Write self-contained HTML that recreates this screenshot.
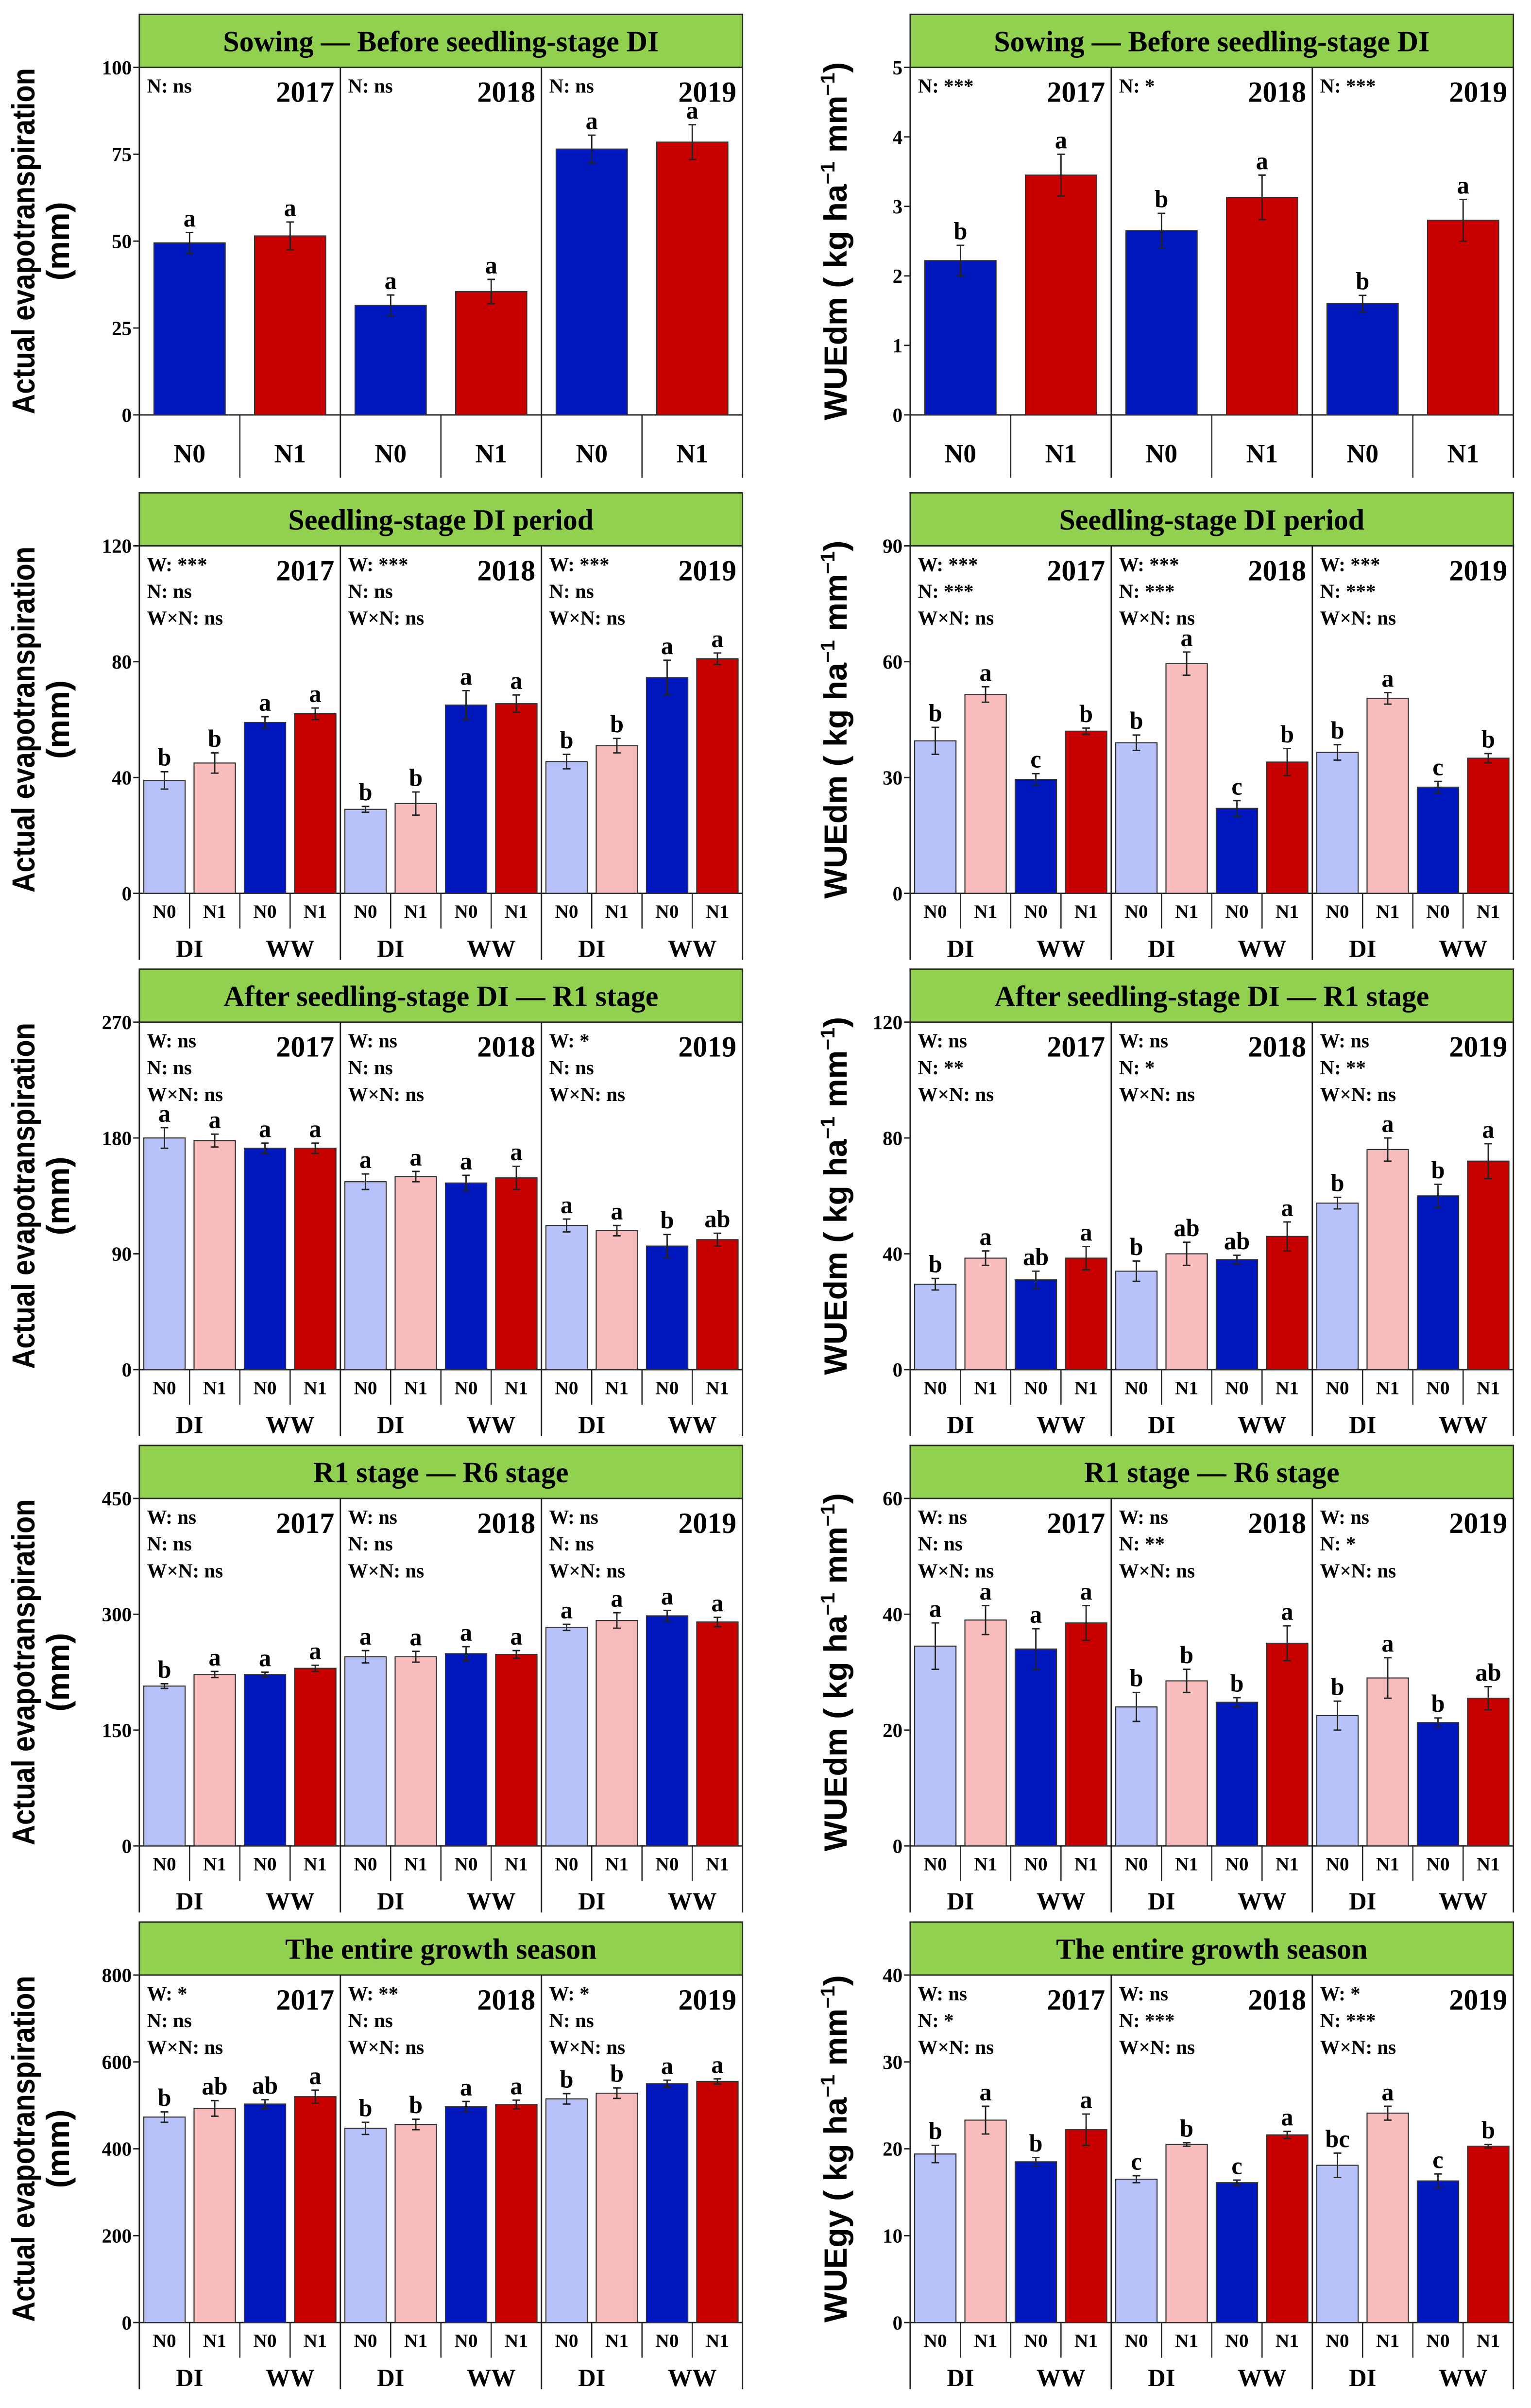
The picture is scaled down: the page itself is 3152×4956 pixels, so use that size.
<!DOCTYPE html>
<html><head><meta charset="utf-8"><style>
html,body{margin:0;padding:0;background:#fff;}
svg{display:block;}
</style></head>
<body>
<svg id="fig" xmlns="http://www.w3.org/2000/svg" width="3152" height="4956" viewBox="0 0 1000 1572.3" preserveAspectRatio="none"></svg>
<script>
// ===== DATA =====
const years = ["2017","2018","2019"];
const titles = ["Sowing \u2014 Before seedling-stage DI","Seedling-stage DI period","After seedling-stage DI \u2014 R1 stage","R1 stage \u2014 R6 stage","The entire growth season"];
// Row 1 (2 bars per year: N0, N1)
const aet1Values = [49.5,51.5, 31.5,35.5, 76.5,78.5];
const aet1Errors = [3,4, 3,3.5, 4,5];
const aet1Letters = ["a","a","a","a","a","a"];
const aet1Ticks = [0,25,50,75,100];
const aet1Stats = [["N: ns"],["N: ns"],["N: ns"]];
const wue1Values = [2.22,3.45, 2.65,3.13, 1.6,2.8];
const wue1Errors = [0.22,0.3, 0.25,0.32, 0.12,0.3];
const wue1Letters = ["b","a","b","a","b","a"];
const wue1Ticks = [0,1,2,3,4,5];
const wue1Stats = [["N: ***"],["N: *"],["N: ***"]];
// Row 2 (DI N0, DI N1, WW N0, WW N1)
const aet2Values = [39,45,59,62, 29,31,65,65.5, 45.5,51,74.5,81];
const aet2Errors = [3,3.5,2,2, 1,4,5,3, 2.5,2.5,6,2];
const aet2Letters = ["b","b","a","a","b","b","a","a","b","b","a","a"];
const aet2Ticks = [0,40,80,120];
const aet2Stats = [["W: ***","N: ns","W\u00d7N: ns"],["W: ***","N: ns","W\u00d7N: ns"],["W: ***","N: ns","W\u00d7N: ns"]];
const wue2Values = [39.5,51.5,29.5,42, 39,59.5,22,34, 36.5,50.5,27.5,35];
const wue2Errors = [3.5,2,1.5,0.8, 2,3,2,3.5, 2,1.5,1.5,1.2];
const wue2Letters = ["b","a","c","b","b","a","c","b","b","a","c","b"];
const wue2Ticks = [0,30,60,90];
const wue2Stats = [["W: ***","N: ***","W\u00d7N: ns"],["W: ***","N: ***","W\u00d7N: ns"],["W: ***","N: ***","W\u00d7N: ns"]];
// Row 3
const aet3Values = [180,178,172,172, 146,150,145,149, 112,108,96,101];
const aet3Errors = [8,5,4,4, 6,4,6,9, 5,4,9,5];
const aet3Letters = ["a","a","a","a","a","a","a","a","a","a","b","ab"];
const aet3Ticks = [0,90,180,270];
const aet3Stats = [["W: ns","N: ns","W\u00d7N: ns"],["W: ns","N: ns","W\u00d7N: ns"],["W: *","N: ns","W\u00d7N: ns"]];
const wue3Values = [29.5,38.5,31,38.5, 34,40,38,46, 57.5,76,60,72];
const wue3Errors = [2,2.5,3,4, 3.5,4,1.5,5, 2,4,4,6];
const wue3Letters = ["b","a","ab","a","b","ab","ab","a","b","a","b","a"];
const wue3Ticks = [0,40,80,120];
const wue3Stats = [["W: ns","N: **","W\u00d7N: ns"],["W: ns","N: *","W\u00d7N: ns"],["W: ns","N: **","W\u00d7N: ns"]];
// Row 4
const aet4Values = [207,222,222,230, 245,245,249,248, 283,292,298,290];
const aet4Errors = [3,4,3,4, 8,7,9,5, 4,10,7,6];
const aet4Letters = ["b","a","a","a","a","a","a","a","a","a","a","a"];
const aet4Ticks = [0,150,300,450];
const aet4Stats = [["W: ns","N: ns","W\u00d7N: ns"],["W: ns","N: ns","W\u00d7N: ns"],["W: ns","N: ns","W\u00d7N: ns"]];
const wue4Values = [34.5,39,34,38.5, 24,28.5,24.8,35, 22.5,29,21.3,25.5];
const wue4Errors = [4,2.5,3.5,3, 2.5,2,0.8,3, 2.5,3.5,0.8,2];
const wue4Letters = ["a","a","a","a","b","b","b","a","b","a","b","ab"];
const wue4Ticks = [0,20,40,60];
const wue4Stats = [["W: ns","N: ns","W\u00d7N: ns"],["W: ns","N: **","W\u00d7N: ns"],["W: ns","N: *","W\u00d7N: ns"]];
// Row 5
const aet5Values = [473,493,503,520, 447,456,497,502, 515,528,550,555];
const aet5Errors = [12,18,10,15, 14,12,12,10, 12,12,8,6];
const aet5Letters = ["b","ab","ab","a","b","b","a","a","b","b","a","a"];
const aet5Ticks = [0,200,400,600,800];
const aet5Stats = [["W: *","N: ns","W\u00d7N: ns"],["W: **","N: ns","W\u00d7N: ns"],["W: *","N: ns","W\u00d7N: ns"]];
const wue5Values = [19.4,23.3,18.5,22.2, 16.5,20.5,16.1,21.6, 18.1,24.1,16.3,20.3];
const wue5Errors = [1,1.6,0.5,1.8, 0.4,0.2,0.3,0.4, 1.4,0.8,0.8,0.2];
const wue5Letters = ["b","a","b","a","c","b","c","a","bc","a","c","b"];
const wue5Ticks = [0,10,20,30,40];
const wue5Stats = [["W: ns","N: *","W\u00d7N: ns"],["W: ns","N: ***","W\u00d7N: ns"],["W: *","N: ***","W\u00d7N: ns"]];

// ===== RENDER =====
const NS = "http://www.w3.org/2000/svg";
const svg = document.getElementById("fig");
const SERIF = "'Liberation Serif', serif";
const SANS = "'Liberation Sans', sans-serif";
function mk(tag, attrs, parent, txt) {
  const e = document.createElementNS(NS, tag);
  for (const k in attrs) e.setAttribute(k, attrs[k]);
  if (txt !== undefined) e.textContent = txt;
  (parent || svg).appendChild(e);
  return e;
}
const rowTops = [9.4, 321.8, 632.8, 943.8, 1255];
const colX = [91, 594.5];
const PW = 394;
const colors2 = ["#0018BE", "#C80000"];
const colors4 = ["#B8C2FA", "#F8BCBC", "#0018BE", "#C80000"];

function panel(col, row, values, errors, letters, ticks, stats, ytitleKind, ylabelBase) {
  const x0 = colX[col], rt = rowTops[row];
  const pTop = rt + 34.6, zero = rt + 261.5, bottom = row === 0 ? rt + 302.6 : rt + 305;
  const ymax = ticks[ticks.length - 1];
  const y = v => zero - (v / ymax) * (zero - pTop);
  const n = values.length / 3;
  const yw = PW / 3, cw = yw / n;
  const g = mk("g", {});
  
  
  const hd = mk("rect", {x: x0, y: rt, width: PW, height: 34.6, fill: "#92D050", stroke: "#2a2a2a", "stroke-width": 0.9}, g);
  
  
  const ht = mk("text", {x: x0 + PW / 2, y: rt + 24, "text-anchor": "middle", "font-family": SERIF, "font-weight": "bold", "font-size": 19}, g, titles[row]);
  
  
  const fr = mk("path", {d: `M${x0},${pTop}V${bottom}M${x0 + PW},${pTop}V${bottom}M${x0},${zero}H${x0 + PW}`, stroke: "#222", "stroke-width": 0.9, fill: "none"}, g);
  
  
  ticks.forEach(t => {
    const tk = mk("line", {x1: x0 - 4, x2: x0, y1: y(t), y2: y(t), stroke: "#222", "stroke-width": 0.9}, g);
    
    
    const tl = mk("text", {x: x0 - 5, y: y(t) + 4.5, "text-anchor": "end", "font-family": SERIF, "font-weight": "bold", "font-size": 13}, g, String(t));
    
    
  });
  for (let k = 0; k < 3; k++) {
    const yx = x0 + k * yw;
    if (k > 0) {
      const dv = mk("line", {x1: yx, x2: yx, y1: pTop, y2: bottom, stroke: "#222", "stroke-width": 0.9}, g);
      
      
    }
    const yl = mk("text", {x: yx + yw - 4, y: pTop + 22.5, "text-anchor": "end", "font-family": SERIF, "font-weight": "bold", "font-size": 19}, g, years[k]);
    
    
    stats[k].forEach((s, i) => {
      const st = mk("text", {x: yx + 5, y: pTop + 16.5 + i * 17.5, "font-family": SERIF, "font-weight": "bold", "font-size": 13}, g, s);
      
      
    });
    for (let j = 0; j < n; j++) {
      const idx = k * n + j;
      const cx = yx + cw * (j + 0.5);
      const bw = n === 2 ? 46.5 : 27;
      const v = values[idx], e = errors[idx];
      const b = mk("rect", {x: cx - bw / 2, y: y(v), width: bw, height: zero - y(v), fill: (n === 2 ? colors2 : colors4)[j], stroke: "#333", "stroke-width": 0.7}, g);
      
      
      const eb = mk("path", {d: `M${cx},${y(v + e)}V${y(v - e)}M${cx - 2.5},${y(v + e)}H${cx + 2.5}M${cx - 2.5},${y(v - e)}H${cx + 2.5}`, stroke: "#222", "stroke-width": 0.9, fill: "none"}, g);
      
      
      const lt = mk("text", {x: cx, y: y(v + e) - 4, "text-anchor": "middle", "font-family": SERIF, "font-weight": "bold", "font-size": 16}, g, letters[idx]);
      
      
      const nl = mk("text", {x: cx, y: n === 2 ? zero + 31 : zero + 16, "text-anchor": "middle", "font-family": SERIF, "font-weight": "bold", "font-size": n === 2 ? 17 : 12.5}, g, j % 2 === 0 ? "N0" : "N1");
      
      
      if (j > 0) {
        const cd = mk("line", {x1: yx + cw * j, x2: yx + cw * j, y1: zero, y2: n === 2 ? bottom : zero + 23, stroke: "#222", "stroke-width": 0.8}, g);
        
        
      }
    }
    if (n === 4) {
      ["DI", "WW"].forEach((w, i) => {
        const wl = mk("text", {x: yx + cw * (2 * i + 1), y: zero + 41.5, "text-anchor": "middle", "font-family": SERIF, "font-weight": "bold", "font-size": 16}, g, w);
        
        
      });
    }
  }
  const cy = (pTop + zero) / 2;
  if (ytitleKind === "aet") {
    const t1 = mk("text", {x: 22.5, y: cy, transform: `rotate(-90 22.5 ${cy})`, "text-anchor": "middle", "font-family": SANS, "font-weight": "bold", "font-size": 21, textLength: 226, lengthAdjust: "spacingAndGlyphs"}, g, "Actual evapotranspiration");
    
    
    const t2 = mk("text", {x: 45, y: cy, transform: `rotate(-90 45 ${cy})`, "text-anchor": "middle", "font-family": SANS, "font-weight": "bold", "font-size": 21}, g, "(mm)");
    
    
  } else {
    const tx = 553;
    const t = mk("text", {x: tx, y: cy, transform: `rotate(-90 ${tx} ${cy})`, "text-anchor": "middle", "font-family": SANS, "font-weight": "bold", "font-size": 21}, g);
    
    
    mk("tspan", {}, t, ylabelBase + " ( kg ha");
    mk("tspan", {dy: -8, "font-size": 13}, t, "\u22121");
    mk("tspan", {dy: 8}, t, " mm");
    mk("tspan", {dy: -8, "font-size": 13}, t, "\u22121");
    mk("tspan", {dy: 8}, t, ")");
  }
}

panel(0, 0, aet1Values, aet1Errors, aet1Letters, aet1Ticks, aet1Stats, "aet", "aet");
panel(1, 0, wue1Values, wue1Errors, wue1Letters, wue1Ticks, wue1Stats, "wue", "WUEdm");
panel(0, 1, aet2Values, aet2Errors, aet2Letters, aet2Ticks, aet2Stats, "aet", "aet");
panel(1, 1, wue2Values, wue2Errors, wue2Letters, wue2Ticks, wue2Stats, "wue", "WUEdm");
panel(0, 2, aet3Values, aet3Errors, aet3Letters, aet3Ticks, aet3Stats, "aet", "aet");
panel(1, 2, wue3Values, wue3Errors, wue3Letters, wue3Ticks, wue3Stats, "wue", "WUEdm");
panel(0, 3, aet4Values, aet4Errors, aet4Letters, aet4Ticks, aet4Stats, "aet", "aet");
panel(1, 3, wue4Values, wue4Errors, wue4Letters, wue4Ticks, wue4Stats, "wue", "WUEdm");
panel(0, 4, aet5Values, aet5Errors, aet5Letters, aet5Ticks, aet5Stats, "aet", "aet");
panel(1, 4, wue5Values, wue5Errors, wue5Letters, wue5Ticks, wue5Stats, "wue", "WUEgy");
</script>
</body></html>
